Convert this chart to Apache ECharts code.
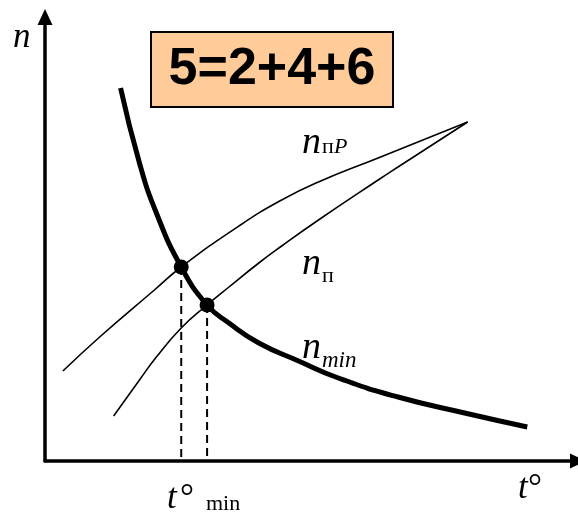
<!DOCTYPE html>
<html>
<head>
<meta charset="utf-8">
<script src="https://cdn.jsdelivr.net/npm/echarts@6/dist/echarts.min.js"></script>
<style>
  html, body { margin: 0; padding: 0; background: #fff; }
  #chart { width: 578px; height: 513px; }
</style>
</head>
<body>
<div id="chart"></div>
<script>
// curves, [t, n] in axis units
const nMin = [[76, 373], [95, 298], [112, 248], [137, 194], [163, 156], [185, 138],
  [215, 118], [255, 100], [295, 83], [355, 64], [422, 48], [485, 34]];
const nPiP = [[18, 90], [55, 124], [110, 171], [137, 194], [195, 235], [238, 261],
  [275, 279], [335, 303], [425, 339]];
const nPi = [[69, 45], [95, 81], [112, 104], [137, 133], [163, 156], [185, 174],
  [215, 198], [238, 215], [275, 241], [335, 281], [355, 294], [425, 339]];
// intersections (t°min)
const crossPoints = [[137, 194], [163, 156]];

const serif = 'Liberation Serif';

let chart = echarts.init(document.getElementById('chart'));

let thin = {color: '#000', width: 1.6};

let series = [
  {name: 'nPiP', type: 'line', data: nPiP, smooth: 0.5, symbol: 'none', lineStyle: thin},
  {name: 'nPi', type: 'line', data: nPi, smooth: 0.5, symbol: 'none', lineStyle: thin},
  {name: 'nMin', type: 'line', data: nMin, smooth: 0.5, symbol: 'none',
    lineStyle: {color: '#000', width: 5}}
];
crossPoints.forEach(function (p, i) {
  series.push({
    name: 'drop' + i, type: 'line', symbol: 'none',
    data: [[p[0], p[1]], [p[0], 0]],
    lineStyle: {color: '#000', width: 2, type: [8, 5]}
  });
});
series.push({
  name: 'cross', type: 'scatter', data: crossPoints, symbolSize: 15,
  itemStyle: {color: '#000', opacity: 1}, z: 5
});

function txt(x, y, text, size, italic) {
  return {
    type: 'text', x: x, y: y, z: 10,
    style: {
      text: text, fill: '#000', fontFamily: serif, fontSize: size,
      fontStyle: italic ? 'italic' : 'normal', verticalAlign: 'bottom'
    }
  };
}

let option = {
  animation: false,
  grid: {left: 45, top: 17, width: 536, height: 444},
  xAxis: {
    type: 'value', min: 0, max: 536,
    axisLine: {symbol: ['none', 'triangle'], symbolSize: [15, 16], lineStyle: {color: '#000', width: 3.5}},
    axisTick: {show: false}, axisLabel: {show: false}, splitLine: {show: false}
  },
  yAxis: {
    type: 'value', min: 0, max: 444,
    axisLine: {symbol: ['none', 'triangle'], symbolSize: [15, 16], lineStyle: {color: '#000', width: 3.5}},
    axisTick: {show: false}, axisLabel: {show: false}, splitLine: {show: false}
  },
  series: series,
  graphic: [
    // formula box
    {type: 'rect', shape: {x: 151, y: 32, width: 242, height: 75}, z: 10,
      style: {fill: '#FFCC99', stroke: '#000', lineWidth: 2}},
    {type: 'text', x: 272, y: 70, z: 11,
      style: {text: '5=2+4+6', fill: '#000', fontFamily: 'Liberation Sans', fontWeight: 'bold',
        fontSize: 52, align: 'center', verticalAlign: 'middle'}},
    // axis names
    txt(13, 55, 'n', 35, true),
    txt(518, 506, 't', 35, true),
    txt(528, 506, '°', 35, false),
    txt(167, 516, 't', 35, true),
    txt(180, 516, '°', 35, false),
    txt(206, 515, 'min', 22, false),
    // curve labels
    txt(302, 162, 'n', 38, true),
    txt(322, 158, 'п', 22, false),
    txt(334, 158, 'P', 22, true),
    txt(302, 283, 'n', 38, true),
    txt(322, 287, 'п', 22, false),
    txt(302, 367, 'n', 38, true),
    txt(322, 372, 'min', 23, true)
  ]
};

chart.setOption(option);
</script>
</body>
</html>
